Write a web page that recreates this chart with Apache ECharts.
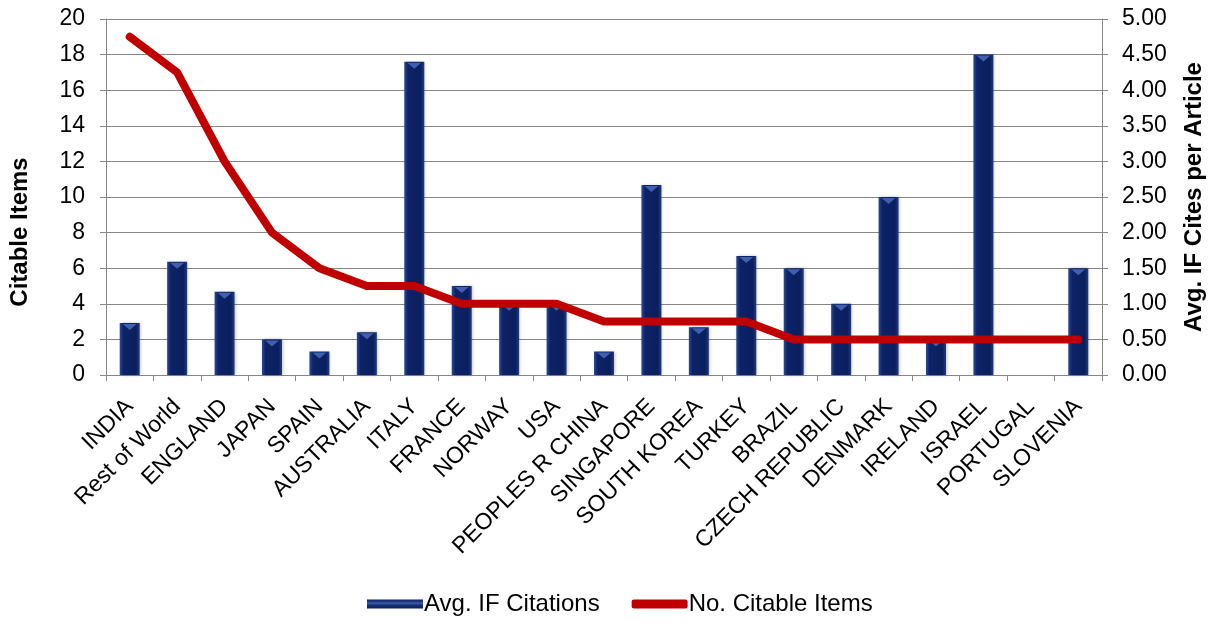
<!DOCTYPE html>
<html>
<head>
<meta charset="utf-8">
<title>Citable Items and Avg. IF Citations by Country</title>
<script src="https://cdn.jsdelivr.net/npm/echarts@6/dist/echarts.min.js"></script>
<style>
  html, body { margin: 0; padding: 0; background: #ffffff; }
  #chart { width: 1215px; height: 622px; }
</style>
</head>
<body>
<div id="chart"></div>
<script>
// Countries along the category axis
const countries = [
  'INDIA', 'Rest of World', 'ENGLAND', 'JAPAN', 'SPAIN', 'AUSTRALIA', 'ITALY',
  'FRANCE', 'NORWAY', 'USA', 'PEOPLES R CHINA', 'SINGAPORE', 'SOUTH KOREA',
  'TURKEY', 'BRAZIL', 'CZECH REPUBLIC', 'DENMARK', 'IRELAND', 'ISRAEL',
  'PORTUGAL', 'SLOVENIA'
];

// Average impact-factor citations per article (right axis, bars)
const avgIfCitations = [
  0.73, 1.59, 1.17, 0.50, 0.33, 0.60, 4.40,
  1.25, 1.00, 1.00, 0.33, 2.67, 0.67,
  1.67, 1.50, 1.00, 2.50, 0.50, 4.50,
  0.00, 1.50
];

// Number of citable items (left axis, line)
const citableItems = [
  19, 17, 12, 8, 6, 5, 5,
  4, 4, 4, 3, 3, 3,
  3, 2, 2, 2, 2, 2,
  2, 2
];

const FONT = "'Liberation Sans', Arial, Helvetica, sans-serif";
const GRID_GREY = '#878787';

const chart = echarts.init(document.getElementById('chart'), null, { renderer: 'canvas' });

// Bevelled navy fill for the columns
const barFill = new echarts.graphic.LinearGradient(0, 0, 1, 0, [
  { offset: 0, color: '#2d4a94' },
  { offset: 0.18, color: '#0d2366' },
  { offset: 0.82, color: '#0b1f5e' },
  { offset: 1, color: '#223c82' }
]);

// Legend swatch for the columns: light band through the middle
const legendBarFill = new echarts.graphic.LinearGradient(0, 0, 0, 1, [
  { offset: 0, color: '#0b1f5e' },
  { offset: 0.45, color: '#3a5aa8' },
  { offset: 0.6, color: '#1a3372' },
  { offset: 1, color: '#0b1f5e' }
]);

chart.setOption({
  animation: false,
  backgroundColor: '#ffffff',
  textStyle: { fontFamily: FONT, color: '#000' },
  grid: { left: 106, right: 113, top: 19, bottom: 247 },
  legend: {
    left: 362,
    top: 587,
    itemWidth: 56,
    itemHeight: 9,
    itemGap: 32,
    textStyle: { fontFamily: FONT, fontSize: 24, color: '#000', padding: [0, 0, 0, -4] },
    data: [
      { name: 'Avg. IF Citations', icon: 'rect', itemStyle: { color: legendBarFill } },
      { name: 'No. Citable Items', icon: 'roundRect' }
    ]
  },
  xAxis: {
    type: 'category',
    data: countries,
    boundaryGap: true,
    axisLine: { lineStyle: { color: GRID_GREY, width: 1 } },
    axisTick: { show: true, length: 6, lineStyle: { color: GRID_GREY } },
    axisLabel: {
      rotate: 45,
      interval: 0,
      margin: 28,
      fontFamily: FONT,
      fontSize: 23,
      color: '#000'
    }
  },
  yAxis: [
    {
      type: 'value',
      min: 0,
      max: 20,
      interval: 2,
      name: 'Citable Items',
      nameLocation: 'middle',
      nameGap: 74,
      nameTextStyle: {
        fontFamily: FONT, fontSize: 24, fontWeight: 'bold', color: '#000',
        padding: [0, 70, 0, 0]
      },
      axisLine: { show: true, lineStyle: { color: GRID_GREY, width: 1 } },
      axisTick: { show: true, length: 6, lineStyle: { color: GRID_GREY } },
      axisLabel: { margin: 21, fontFamily: FONT, fontSize: 23, color: '#000' },
      splitLine: { show: true, lineStyle: { color: GRID_GREY, width: 1 } }
    },
    {
      type: 'value',
      min: 0,
      max: 5,
      interval: 0.5,
      position: 'right',
      name: 'Avg. IF Cites per Article',
      nameLocation: 'middle',
      nameGap: 80,
      nameTextStyle: { fontFamily: FONT, fontSize: 24, fontWeight: 'bold', color: '#000' },
      axisLine: { show: true, lineStyle: { color: GRID_GREY, width: 1 } },
      axisTick: { show: true, length: 6, lineStyle: { color: GRID_GREY } },
      axisLabel: {
        margin: 20, fontFamily: FONT, fontSize: 23, color: '#000',
        formatter: v => v.toFixed(2)
      },
      splitLine: { show: false }
    }
  ],
  series: [
    {
      name: 'Avg. IF Citations',
      type: 'bar',
      yAxisIndex: 1,
      data: avgIfCitations,
      barWidth: 20,
      itemStyle: {
        color: barFill,
        shadowColor: 'rgba(0,0,0,0.25)',
        shadowBlur: 3,
        shadowOffsetX: 1
      },
      z: 2
    },
    {
      // bevel highlight on top of each column
      name: 'bevel',
      type: 'scatter',
      yAxisIndex: 1,
      data: avgIfCitations.map(v => (v > 0 ? v : null)),
      symbol: 'triangle',
      symbolRotate: 180,
      symbolSize: [14, 6],
      symbolOffset: [0, 4],
      itemStyle: { color: '#4d6fc2' },
      silent: true,
      z: 3
    },
    {
      name: 'No. Citable Items',
      type: 'line',
      yAxisIndex: 0,
      data: citableItems,
      showSymbol: false,
      symbol: 'none',
      lineStyle: { color: '#c00000', width: 8, cap: 'round', join: 'round' },
      itemStyle: { color: '#c00000' },
      z: 5
    }
  ]
});
</script>
</body>
</html>
